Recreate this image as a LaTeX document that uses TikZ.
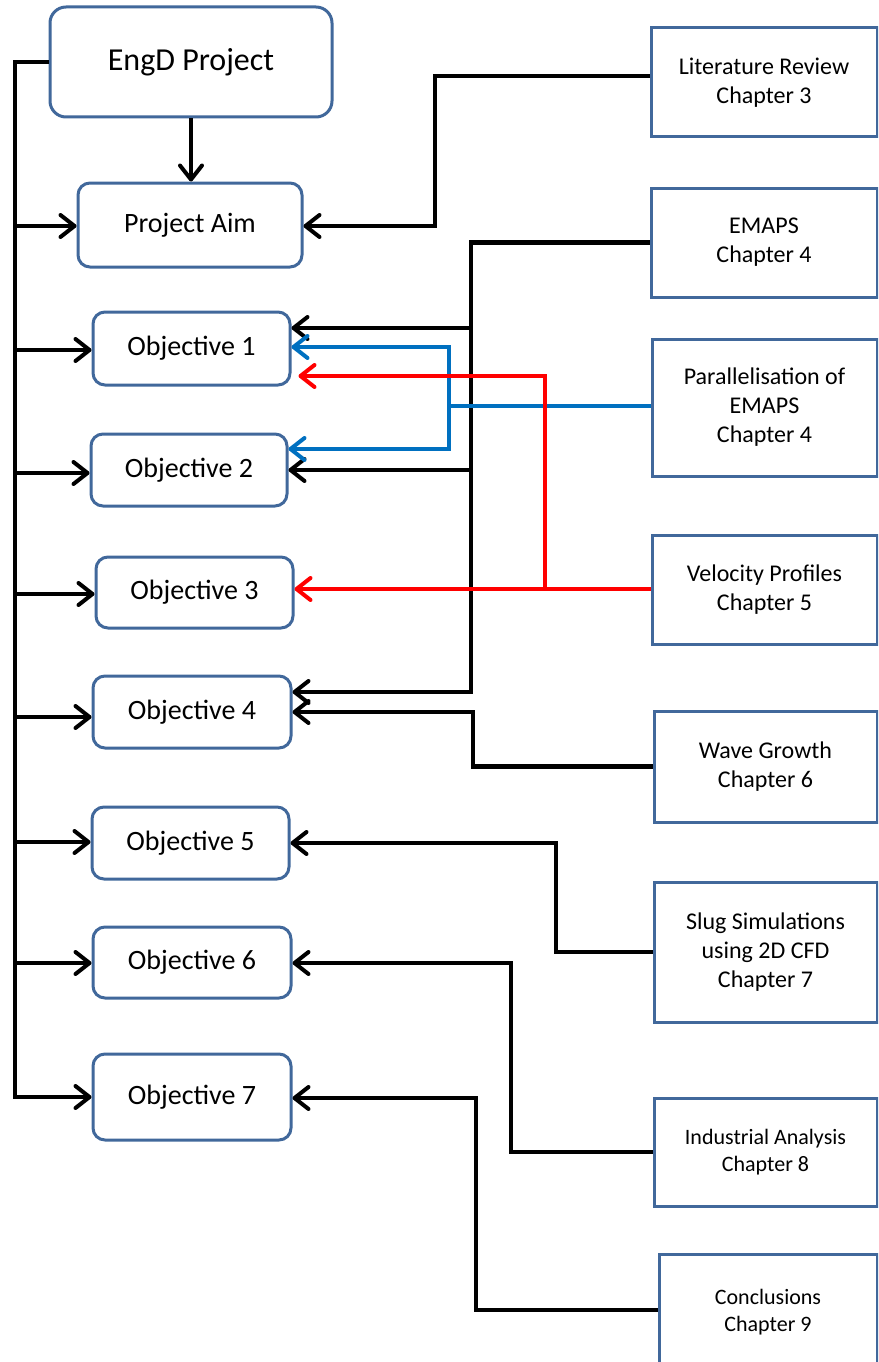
\documentclass[tikz,border=0pt]{standalone}
\usepackage{fontspec}
\setmainfont{Carlito}
\usetikzlibrary{arrows.meta}
\definecolor{boxline}{HTML}{41689B}
\definecolor{linkblue}{HTML}{0070C0}
\definecolor{linkred}{HTML}{FF0000}
\tikzset{
  rbox/.style={draw=boxline, line width=3pt, rounded corners=12pt, fill=white,
    inner sep=0pt, align=center, font=\fontsize{28}{33}\selectfont},
  chbox/.style={draw=boxline, line width=3pt, fill=white, inner sep=0pt,
    align=center, font=\fontsize{24}{29}\selectfont},
  conn/.style={line width=4.2pt, black},
  arr/.style={conn, -{Straight Barb[length=14pt,width=22pt,line width=4pt,round]}},
  barr/.style={arr, linkblue, line width=4pt},
  rarr/.style={arr, linkred, line width=4pt},
}
\begin{document}
\begin{tikzpicture}[x=1pt, y=-1pt]
\useasboundingbox (0,0) rectangle (878,1362);
\clip (0,0) rectangle (878,1362);

% left-hand column: project, aim and objectives
\node[rbox, minimum width=282pt, minimum height=110pt, rounded corners=16pt,
  font=\fontsize{32}{38}\selectfont] (engd) at (191,62) {EngD Project};
\node[rbox, minimum width=224pt, minimum height=84pt] (aim) at (190,225) {Project Aim};
\node[rbox, minimum width=197pt, minimum height=73pt] (o1) at (191.5,348.5) {Objective 1};
\node[rbox, minimum width=196pt, minimum height=72pt] (o2) at (189,470) {Objective 2};
\node[rbox, minimum width=197pt, minimum height=71pt] (o3) at (194.5,592.5) {Objective 3};
\node[rbox, minimum width=198pt, minimum height=72pt] (o4) at (192,712) {Objective 4};
\node[rbox, minimum width=197pt, minimum height=72pt] (o5) at (190.5,843) {Objective 5};
\node[rbox, minimum width=198pt, minimum height=71pt] (o6) at (192,962.5) {Objective 6};
\node[rbox, minimum width=198pt, minimum height=86pt] (o7) at (192,1097) {Objective 7};

% right-hand column: thesis chapters
\node[chbox, minimum width=226pt, minimum height=109pt] (lit) at (764,82.5) {Literature Review\\Chapter 3};
\node[chbox, minimum width=226pt, minimum height=109pt] (emaps) at (764,242.5) {EMAPS\\Chapter 4};
\node[chbox, minimum width=225pt, minimum height=137pt] (par) at (764.5,407.5) {Parallelisation of\\EMAPS\\Chapter 4};
\node[chbox, minimum width=225pt, minimum height=109pt] (vel) at (764.5,589.5) {Velocity Profiles\\Chapter 5};
\node[chbox, minimum width=223pt, minimum height=111pt] (wave) at (765.5,766.5) {Wave Growth\\Chapter 6};
\node[chbox, minimum width=223pt, minimum height=140pt] (slug) at (765.5,952) {Slug Simulations\\using 2D CFD\\Chapter 7};
\node[chbox, minimum width=223pt, minimum height=108pt, font=\fontsize{22}{27}\selectfont]
  (ind) at (765.5,1152) {Industrial Analysis\\Chapter 8};
\node[chbox, minimum width=218pt, minimum height=116pt, font=\fontsize{22}{27}\selectfont]
  (conc) at (768,1312) {Conclusions\\Chapter 9};

% trunk feeding the aim and every objective
\coordinate (t0) at (15,226);
\coordinate (t1) at (15,350);
\coordinate (t2) at (15,473);
\coordinate (t3) at (15,594);
\coordinate (t4) at (15,717);
\coordinate (t5) at (15,842);
\coordinate (t6) at (15,963);
\coordinate (t7) at (15,1097);
\draw[arr] (engd.west) -| (t7) -- (t7 -| o7.west);
\foreach \t/\o in {t0/aim, t1/o1, t2/o2, t3/o3, t4/o4, t5/o5, t6/o6}
  \draw[arr] (\t) -- (\t -| \o.west);
\draw[arr] (engd.south) -- (engd.south |- aim.north);

% chapter links
\draw[arr] (lit.west |- 0,76) -| (435,226) -- (aim.east |- 0,226);
\draw[arr] (emaps.west) -| (471,692) -- (o4.east |- 0,692);
\draw[arr] (471,328) -- (o1.east |- 0,328);
\draw[arr] (471,470) -- (o2.east |- 0,470);
\draw[barr] (par.west |- 0,406) -| (449,347) -- (o1.east |- 0,347);
\draw[barr] (449,406) -- (449,449) -- (o2.east |- 0,449);
\draw[rarr, shorten >=7pt] (vel.west |- 0,589) -| (545,376) -- (o1.east |- 0,376);
\draw[rarr] (545,589) -- (o3.east |- 0,589);
\draw[arr] (wave.west) -| (473,712) -- (o4.east |- 0,712);
\draw[arr] (slug.west) -| (556,843) -- (o5.east |- 0,843);
\draw[arr] (ind.west) -| (511,963) -- (o6.east |- 0,963);
\draw[arr] (conc.west |- 0,1310) -| (476,1098) -- (o7.east |- 0,1098);
\end{tikzpicture}
\end{document}
